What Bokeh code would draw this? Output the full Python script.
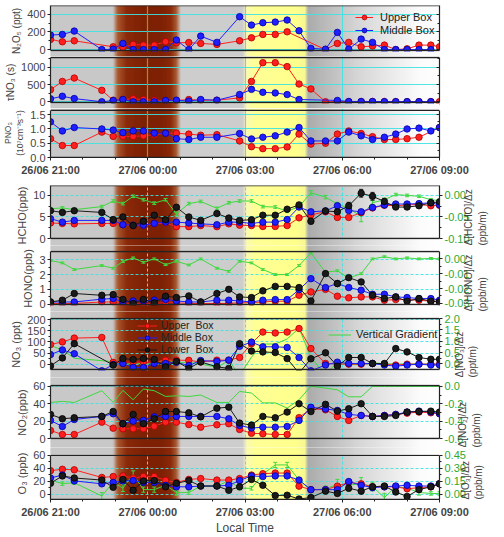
import math
import numpy as np
from bokeh.plotting import figure
from bokeh.layouts import column
from bokeh.models import (Range1d, LinearAxis, FixedTicker, Legend, LegendItem, Whisker,
                          ColumnDataSource, Span, Grid, NumeralTickFormatter, TeeHead)
from bokeh.embed import file_html
from bokeh.resources import INLINE

nan = float("nan")

# ---------------- data ----------------
times = ["21:00", "21:22", "21:44", "22:35", "22:56", "23:14", "23:33", "23:52", "00:12", "00:33",
         "00:53", "01:16", "01:38", "02:08", "02:30", "02:50", "03:12", "03:33", "03:56", "04:18",
         "04:40", "05:02", "05:29", "05:51", "06:12", "06:35", "06:56", "07:18", "07:39", "08:00",
         "08:22", "08:44", "09:00"]

tick_hours = [0, 3, 6, 9, 12]
tick_labels = ["26/06 21:00", "27/06 00:00", "27/06 03:00", "27/06 06:00", "27/06 09:00"]
minor_hours = list(range(13))

n2o5_upper = [116, 89, 100, nan, 32, 25, 59, 51, 51, 89, 77, 80, 70, 59, nan, 100, 134, 172, 172, 202,
              nan, nan, 0, 70, 82, 32, 40, 51, 0, 9, 51, 51, 32]
n2o5_middle = [165, 172, 210, 0, 5, 70, 0, 0, 0, 0, 108, 0, 153, 82, nan, 373, 278, 305, 312, 335,
               214, 14, 5, 195, 5, 119, 82, 0, 0, 0, 0, 0, nan]

tau_upper = [351, 589, 686, 331, 46, 66, 86, 66, 46, 37, 37, 66, 46, 46, nan, 114, 589, 1131, 1131, 1017,
             514, 371, 0, 10, 0, 5, 5, 5, 5, 5, 5, 5, 5]
tau_middle = [86, 160, 94, 0, 37, 66, 0, 0, 0, 37, 46, 20, 66, 46, nan, 209, 360, 274, 257, 209,
              66, nan, nan, 40, 10, 10, 10, 5, 5, 5, 5, 5, nan]

p_upper = [0.66, 0.42, 0.42, 0.89, 0.74, 0.74, 0.74, 0.76, 0.80, 0.85, 0.85, 0.82, 0.78, 0.80, nan, 0.58,
           0.38, 0.31, 0.31, 0.37, 0.82, 0.47, 0.50, 0.82, 0.93, 0.84, 0.73, 0.63, 0.63, 0.66, 0.71, nan, 1.05]
p_middle = [1.25, 0.93, 1.05, 1.00, 0.96, 0.87, 0.93, 0.93, 0.85, 0.85, 0.66, 0.63, 0.71, 0.71, nan, 0.84,
            0.65, 0.71, 0.76, 0.89, 1.05, 0.58, 0.58, 0.58, 0.89, 0.76, 0.63, 0.71, 0.82, 1.00, 1.03, 0.93, 1.05]

hcho_upper = [3.6, 3.5, 3.4, 3.5, 3.5, 3.2, 3.0, 3.1, 3.4, 3.6, 2.75, 2.75, 3.0, 2.75, 3.4, 3.1, 3.0, 2.8,
              2.8, 3.0, 4.8, 5.5, 6.2, 4.9, 4.9, 6.0, 7.1, 7.7, 7.6, 7.8, 7.9, 7.6, 7.7]
hcho_middle = [4.6, 3.8, 4.2, 4.2, 4.2, 3.2, 3.1, 3.1, 3.5, 3.8, 3.8, 3.6, 3.4, 3.2, 3.8, 3.8, 3.5, 3.8,
               3.8, 4.4, 7.3, 6.2, 6.4, 7.6, 6.5, 6.2, 7.2, 7.8, 8.0, 8.0, 8.1, 8.3, 7.8]
hcho_lower = [6.45, 6.05, 6.45, 6.05, 4.4, 5.0, 3.0, 4.0, 5.4, 4.35, 7.25, 5.0, 4.2, 5.8, 4.75, 4.2, 4.35,
              5.4, 5.4, 6.8, 7.8, 4.0, 6.4, 6.2, 7.6, 10.5, 9.8, 8.6, 7.3, 7.3, 7.6, 8.3, 8.5]
hcho_lower_err = [0, 0, 0, 0, 0, 0, 0, 0, 0, 0, 0, 0, 0, 0, 0, 0, 0, 0, 0, 0, 0, 0.6, 0, 0, 0.8, 0.9,
                  0.9, 0.6, 0, 0.5, 0, 0, 0]
hcho_grad = [-0.031, -0.029, -0.033, -0.026, -0.013, -0.019, -0.002, -0.010, -0.018, -0.010, -0.043,
             -0.019, -0.014, -0.030, -0.017, -0.013, -0.013, -0.026, -0.027, -0.037, -0.026, 0.006,
             -0.004, -0.020, -0.030, -0.049, -0.017, -0.010, 0.002, 0.000, -0.002, -0.010, -0.012]
hcho_grad_err = [0.003, 0.003, 0.003, 0.003, 0.003, 0.003, 0.003, 0.003, 0.003, 0.003, 0.004, 0.003,
                 0.003, 0.003, 0.003, 0.003, 0.003, 0.003, 0.003, 0.003, 0.003, 0.005, 0.004, 0.004,
                 0.006, 0.012, 0.005, 0.004, 0.003, 0.003, 0.003, 0.003, 0.003]

hono_upper = [0.05, 0.05, 0.05, 0.15, 0.15, 0.05, 0.05, 0.05, 0.05, 0.1, 0.1, 0.05, 0.05, 0.05, 0.05, 0.1,
              0.1, 0.15, 0.2, 0.2, 0.6, 0.83, 1.0, 0.54, 0.43, 0.49, 0.49, 0.27, 0.31, 0.31, 0.27, 0.2, 0.2]
hono_middle = [0.15, 0.15, 0.15, 0.34, 0.38, 0.15, 0.22, 0.22, 0.27, 0.32, 0.22, 0.15, 0.15, 0.27, 0.27,
               0.22, 0.15, 0.27, 0.31, 0.31, 0.98, 1.72, 1.12, 1.39, 1.12, 0.94, 0.67, 0.67, 0.49, 0.45,
               0.38, 0.38, 0.27]
hono_lower = [0.15, 0.27, 0.72, 0.6, 0.65, 0.32, 0.05, 0.32, 0.09, 0.54, 0.45, 0.56, 0.15, 0.72, 1.0, 0.49,
              0.45, 0.9, 1.2, 1.2, 1.12, 0.22, 2.06, 1.39, 1.79, 1.5, 0.6, 0.38, 0.49, 0.2, 0.38, 0.2, 0.15]
hono_grad = [-0.0011, -0.0027, -0.0072, -0.0045, -0.0063, -0.0018, 0.0007, -0.0023, 0.0, -0.0039,
             -0.0016, -0.0041, 0.0, -0.0063, -0.0084, -0.0016, -0.0027, -0.0072, -0.0106, -0.0106,
             -0.0045, 0.004, -0.009, -0.008, -0.0129, -0.010, 0.0, 0.0015, 0.0, 0.0007, 0.0, 0.0003, 0.0]
hono_grad_err = [0.0006] * 33

no3_upper = [88, 100, 117, 120, 8, 9, 9, 9, 9, 18, 18, 17, 10, 18, 18, 30, 92, 144, 140, 144, 160, 70, 3,
             0, 0, 0, 3, 0, -4, 0, 0, 0, 0]
no3_middle = [43, 64, 47, -30, -2, 3, -15, -15, 3, 3, 8, -6, 16, 12, 18, 80, 99, 78, 78, 75, 30, -30, -4,
              9, 3, 3, 3, -4, -9, -4, 0, -4, -4]
no3_lower = [-8, 28, 92, nan, -4, 25, 21, 25, 21, -12, 12, -19, 10, -12, -19, 92, 59, 55, 52, 25, -40, 24,
             51, -9, 30, 30, 3, 3, 70, 55, 30, 22, 22]
no3_grad = [0.81, 0.62, 0.25, nan, 0.10, -0.05, 0.05, 0.0, 0.02, 0.2, 0.07, 0.07, 0.0, -0.15, 0.15, -0.5,
            0.3, 0.88, 0.88, 1.1, 1.58, 0.29, -0.5, 0.11, -0.03, -0.03, 0.06, 0.0, 0.0, 0.0, 0.0, 0.0, 0.0]

no2_upper = [9.2, 4.6, 4.6, 18.8, 11.9, 11.2, 11.2, 11.2, 14.2, 18.8, 18.8, 16.1, 13.0, 15.8, 17.0, 10.4,
             6.0, 5.4, 4.6, 4.6, 24.0, 34.3, 33.0, 25.4, 20.8, 26.5, 25.4, 26.5, 27.7, 29.2, 30.4, 29.6, 28.5]
no2_middle = [20.8, 13.8, 21.9, 25.4, 28.5, 17.0, 20.0, 20.8, 24.9, 25.4, 25.4, 25.4, 25.4, 25.4, 22.7,
              15.0, 12.0, 13.0, 13.0, 13.8, 20.8, 36.0, 34.0, 32.3, 27.7, 26.5, 25.4, 26.5, 27.7, 30.4,
              31.5, 30.4, 28.5]
no2_lower = [27.7, 22.7, 23.9, 25.4, 31.1, 17.0, 27.7, 17.0, 22.7, 31.1, 31.1, 29.6, 24.9, 34.9, 36.1,
             17.7, 15.4, 25.4, 23.9, 30.4, 40.0, 31.0, 39.3, 31.5, 34.3, 40.0, 25.4, 25.4, 26.5, 30.4,
             31.1, 31.5, 30.4]
no2_grad = [-0.185, -0.173, -0.185, -0.05, -0.185, -0.046, -0.154, -0.03, -0.05, -0.116, -0.108, -0.116,
            -0.10, -0.185, -0.185, -0.058, -0.077, -0.19, -0.19, -0.25, -0.154, 0.0, -0.02, -0.04, -0.12,
            -0.12, 0.0, 0.0, 0.0, 0.0, 0.0, 0.0, 0.0]

o3_upper = [36.5, 38.6, 37.8, 26.0, 27.4, 28.4, 25.2, 27.4, 27.4, 21.6, 18.4, 23.0, 24.3, 22.0, 22.0, 24.3,
            29.7, 31.9, 32.8, 32.8, 12.6, 7.2, 7.2, 12.6, 18.4, 16.2, 11.6, 11.6, 11.6, 8.5, 10.3, 11.6, 16.2]
o3_middle = [25.2, 29.7, 20.7, 16.2, 18.4, 20.7, 21.2, 18.4, 18.4, 13.9, 11.6, 11.6, 12.8, 12.8, 13.9, 21.2,
             28.4, 27.4, 28.4, 28.4, 22.0, 7.2, 7.2, 7.2, 19.7, 13.9, 10.3, 11.6, 12.8, 13.9, 12.8, 12.8, 16.2]
o3_lower = [17.0, 28.4, 25.2, 22.0, 10.8, 23.0, 6.2, 20.7, 21.2, 11.6, 17.0, 21.2, 12.8, 12.8, 6.2, 11.6,
            23.0, 13.9, -1.9, -1.4, -7.3, -5.0, 4.9, 1.3, 9.5, 4.9, 11.6, 12.8, 3.5, -3.2, 7.2, 11.6, 16.2]
o3_lower_err = [0, 0, 0, 0, 0, 0, 0, 0, 0, 0, 0, 0, 0, 0, 0, 0, 0, 0, 0, 0, 0, 0, 3, 3, 4, 4, 3, 3, 3, 3,
                0, 0, 0]
o3_grad = [0.164, 0.123, 0.134, -0.02, 0.14, 0.072, 0.232, 0.054, 0.054, 0.106, 0.02, 0.02, 0.095, 0.095,
           0.157, 0.07, 0.07, 0.236, 0.34, 0.34, 0.168, 0.048, 0.065, 0.113, 0.106, 0.123, 0.089, -0.038,
           0.089, 0.072, 0.021, 0.01, 0.01]
o3_grad_err = [0.01, 0.02, 0.02, 0.04, 0.03, 0.04, 0.04, 0.03, 0.03, 0.02, 0.03, 0.02, 0.02, 0.02, 0.02,
               0.02, 0.02, 0.02, 0.03, 0.03, 0.02, 0.03, 0.03, 0.06, 0.07, 0.07, 0.05, 0.05, 0.03, 0.04,
               0.03, 0.02, 0.02]

# ---------------- style ----------------
FONT = "Liberation Sans"
RED, RED_E = "#ff1f1f", "#b00000"
BLUE, BLUE_E = "#1f1fff", "#0000a0"
BLACK, BLACK_E = "#1a1a1a", "#000000"
GREEN, GREEN_T = "#3fd83f", "#2fa82f"
CYAN = "#3ee2e2"

# background shading (hour positions and colours)
bg_h = [0.0, 1.92, 2.08, 2.35, 2.9, 3.4, 3.7, 3.88, 4.02, 5.92, 6.05, 6.3, 7.6, 7.85, 7.95, 9.5, 11.4, 12.0]
bg_r = [200, 200, 168, 138, 126, 126, 138, 168, 205, 205, 250, 255, 255, 248, 172, 215, 252, 255]
bg_g = [200, 200, 88, 42, 32, 32, 42, 88, 205, 205, 250, 255, 255, 248, 172, 215, 252, 255]
bg_b = [200, 200, 48, 10, 4, 4, 10, 48, 205, 205, 180, 150, 140, 150, 172, 215, 252, 255]

t = np.array([((int(s[:2]) - 21) % 24) + int(s[3:]) / 60.0 for s in times])
xr = Range1d(0, 12)


def rgba_row(alpha=None):
    n = 600
    hx = (np.arange(n) + 0.5) * 12.0 / n
    img = np.zeros((1, n), dtype=np.uint32)
    v = img.view(dtype=np.uint8).reshape((1, n, 4))
    v[0, :, 0] = np.interp(hx, bg_h, bg_r)
    v[0, :, 1] = np.interp(hx, bg_h, bg_g)
    v[0, :, 2] = np.interp(hx, bg_h, bg_b)
    v[0, :, 3] = 255 if alpha is None else np.interp(hx, alpha[0], alpha[1])
    return img


BG = rgba_row()
MASK = rgba_row(([0, 1.98, 2.2, 3.7, 3.92, 12], [0, 0, 215, 215, 0, 0]))


def style_axis(ax, size="11px"):
    ax.major_label_text_font = FONT
    ax.major_label_text_font_size = size
    ax.major_label_standoff = 2
    ax.axis_label_text_font = FONT
    ax.axis_label_text_font_style = "normal"
    ax.axis_line_color = "#222222"
    ax.axis_line_width = 1.2
    ax.major_tick_line_color = "#222222"
    ax.minor_tick_line_color = "#222222"
    ax.major_tick_out = 3
    ax.major_tick_in = 0
    ax.minor_tick_out = 2
    ax.minor_tick_in = 0


def panel(height, btop, bbot, pt, H, pb, lo, hi, ticks, minor, label, top,
          lfmt=None, lsize="11px", right=None, xaxis=False, xlabel=None):
    upp = (hi - lo) / H
    ys, ye = lo - pb * upp, hi + pt * upp
    p = figure(width=504, height=height, x_range=xr, y_range=Range1d(ys, ye),
               output_backend="svg", toolbar_location=None,
               x_axis_location="below" if xaxis else None,
               min_border_left=45, min_border_right=65,
               min_border_top=btop, min_border_bottom=bbot,
               outline_line_color=None, border_fill_color="white")
    p.grid.visible = False
    p.image_rgba(image=[BG], x=0, y=ys, dw=12, dh=ye - ys, level="image")
    dash = "solid" if top else "3 2"
    p.add_layout(Grid(dimension=1, ticker=FixedTicker(ticks=ticks), grid_line_color=CYAN,
                      grid_line_dash=dash, grid_line_alpha=0.9))
    p.add_layout(Grid(dimension=0, ticker=FixedTicker(ticks=[6, 9]), grid_line_color=CYAN,
                      grid_line_dash=dash, grid_line_alpha=0.9))
    if top:
        p.image_rgba(image=[MASK], x=0, y=ys, dw=12, dh=ye - ys, level="underlay")
        p.add_layout(Grid(dimension=0, ticker=FixedTicker(ticks=[3]), grid_line_color="#8f9a2a",
                          grid_line_width=1.2, level="glyph"))
    else:
        p.add_layout(Grid(dimension=0, ticker=FixedTicker(ticks=[3]), grid_line_color="#d9c21a",
                          grid_line_dash=dash))

    ax = p.yaxis[0]
    style_axis(ax)
    ax.bounds = (lo, hi)
    ax.ticker = FixedTicker(ticks=ticks, minor_ticks=minor)
    if lfmt:
        ax.formatter = NumeralTickFormatter(format=lfmt)
    ax.axis_label = label
    ax.axis_label_text_font_size = lsize
    ax.axis_label_standoff = 2

    if right is None:
        rax = LinearAxis(bounds=(lo, hi), ticker=FixedTicker(ticks=ticks, minor_ticks=minor),
                         major_label_text_color=None)
        style_axis(rax)
        rax.major_tick_in, rax.major_tick_out = 3, 0
        rax.minor_tick_in, rax.minor_tick_out = 2, 0
        p.add_layout(rax, "right")
    else:
        rlo, rhi, rticks, rminor, rfmt, rlabel = right
        rupp = (rhi - rlo) / H
        p.extra_y_ranges = {"g": Range1d(rlo - pb * rupp, rhi + pt * rupp)}
        rax = LinearAxis(y_range_name="g", bounds=(rlo, rhi),
                         ticker=FixedTicker(ticks=rticks, minor_ticks=rminor),
                         formatter=NumeralTickFormatter(format=rfmt), axis_label=rlabel)
        style_axis(rax)
        rax.major_label_text_color = GREEN_T
        rax.axis_label_text_font_size = "10px"
        rax.axis_label_standoff = 3
        try:
            rax.axis_label_orientation = math.pi / 2
            rax.axis_label_align = "start"
        except Exception:
            pass
        p.add_layout(rax, "right")

    if xaxis:
        xa = p.xaxis[0]
        style_axis(xa)
        xa.ticker = FixedTicker(ticks=tick_hours, minor_ticks=minor_hours)
        xa.major_label_overrides = {h: s for h, s in zip(tick_hours, tick_labels)}
        xa.major_label_text_font_style = "bold"
        xa.major_label_standoff = 3
        if xlabel:
            xa.axis_label = xlabel
            xa.axis_label_text_font_size = "12px"
            xa.axis_label_standoff = 0

    eps = 1.0 * upp
    if pb > 0:
        p.image_rgba(image=[BG], x=0, y=ys, dw=12, dh=(lo - eps) - ys, level="overlay")
    if pt > 0:
        p.image_rgba(image=[BG], x=0, y=hi + eps, dw=12, dh=ye - hi - eps, level="overlay")
    for loc in (lo, hi):
        p.add_layout(Span(location=loc, dimension="width", line_color="#222222", line_width=1.3))
    return p


def draw(p, y, color, edge, rname="default", marker=True, err=None):
    y = np.array(y, dtype=float)
    m = ~np.isnan(y)
    src = ColumnDataSource(dict(x=t[m], y=y[m]))
    rs = [p.line("x", "y", source=src, line_color=color, line_width=1.0, y_range_name=rname)]
    if marker:
        rs.append(p.scatter("x", "y", source=src, size=6.5, fill_color=color, line_color=edge,
                            line_width=0.8, y_range_name=rname))
    if err is not None:
        e = np.array(err, dtype=float)
        k = m & (e > 0)
        wsrc = ColumnDataSource(dict(x=t[k], lo=y[k] - e[k], hi=y[k] + e[k]))
        p.add_layout(Whisker(source=wsrc, base="x", upper="hi", lower="lo", y_range_name=rname,
                             line_color=color, line_width=1,
                             upper_head=TeeHead(size=4, line_color=color, line_width=1),
                             lower_head=TeeHead(size=4, line_color=color, line_width=1)))
    return rs


def legend(p, items, loc, gw, gh, standoff, size, spacing=0, padding=1):
    lg = Legend(items=[LegendItem(label=l, renderers=r) for l, r in items], location=loc,
                background_fill_alpha=0, border_line_color=None, glyph_width=gw, glyph_height=gh,
                label_height=gh, spacing=spacing, padding=padding, margin=0, label_standoff=standoff,
                label_text_font=FONT, label_text_font_size=size, label_text_color="#222222")
    p.add_layout(lg)


# ---------------- top group ----------------
A = panel(56, 5, 0, 0, 45, 6, -10, 500, [0, 200, 400], [100, 300], "N₂O₅ (ppt)", True, lsize="10px")
ra = draw(A, n2o5_upper, RED, RED_E)
ba = draw(A, n2o5_middle, BLUE, BLUE_E)
legend(A, [("Upper Box", ra), ("Middle Box", ba)], (305, 20), 18, 12, 7, "11px", spacing=1, padding=2)

B = panel(52, 0, 0, 1, 45, 6, -20, 1280, [0, 500, 1000], [250, 750, 1250], "τNO₃ (s)", True, lsize="10px")
draw(B, tau_upper, RED, RED_E)
draw(B, tau_middle, BLUE, BLUE_E)

C = panel(70, 0, 19, 2, 49, 0, 0, 1.65, [0, 0.5, 1.0, 1.5], [0.25, 0.75, 1.25], "PNO₃\n(10⁷cm⁻³s⁻¹)", True,
          lfmt="0.0", lsize="8.5px", xaxis=True)
draw(C, p_upper, RED, RED_E)
draw(C, p_middle, BLUE, BLUE_E)

# ---------------- bottom group ----------------
D = panel(67, 7, 0, 0, 53, 7, 0, 12.3, [0, 5, 10], [2.5, 7.5], "HCHO(ppb)", False,
          right=(-0.1, 0.023, [-0.1, -0.05, 0.0], [-0.075, -0.025], "0.00", "Δ[HCHO]/Δz\n(ppb/m)"))
draw(D, hcho_grad, GREEN, GREEN, rname="g", marker=False, err=hcho_grad_err)
draw(D, hcho_upper, RED, RED_E)
draw(D, hcho_middle, BLUE, BLUE_E)
draw(D, hcho_lower, BLACK, BLACK_E, err=hcho_lower_err)

E = panel(66, 0, 0, 6, 53, 7, -0.02, 3.55, [0, 1, 2, 3], [0.5, 1.5, 2.5], "HONO(ppb)", False,
          right=(-0.0308, 0.005, [-0.03, -0.02, -0.01, 0.0], [-0.025, -0.015, -0.005], "0.00",
                 "Δ[HONO]/Δz\n(ppb/m)"))
draw(E, hono_grad, GREEN, GREEN, rname="g", marker=False, err=hono_grad_err)
draw(E, hono_upper, RED, RED_E)
draw(E, hono_middle, BLUE, BLUE_E)
draw(E, hono_lower, BLACK, BLACK_E)

F = panel(66, 0, 0, 7, 51, 8, -24, 205, [0, 50, 100, 150, 200], [25, 75, 125, 175], "NO₃ (ppt)", False,
          right=(-0.245, 2.005, [0.0, 0.5, 1.0, 1.5, 2.0], [0.25, 0.75, 1.25, 1.75], "0.0",
                 "Δ[NO₃]/Δz\n(ppt/m)"))
gf = draw(F, no3_grad, GREEN, GREEN, rname="g", marker=False)
rf = draw(F, no3_upper, RED, RED_E)
bf = draw(F, no3_middle, BLUE, BLUE_E)
kf = draw(F, no3_lower, BLACK, BLACK_E)
legend(F, [("Upper  Box", rf), ("Middle Box", bf), ("Lower  Box", kf)], (87, 22), 20, 11, 4, "10.5px")
legend(F, [("Vertical Gradient", gf)], (278, 37), 23, 11, 5, "11px")

G = panel(70, 0, 0, 8, 53, 9, 0, 61, [0, 20, 40, 60], [10, 30, 50], "NO₂(ppb)", False,
          right=(-0.6, 0.01, [-0.6, -0.4, -0.2, 0.0], [-0.5, -0.3, -0.1], "0.0", "Δ[NO₂]/Δz\n(ppb/m)"))
draw(G, no2_grad, GREEN, GREEN, rname="g", marker=False)
draw(G, no2_upper, RED, RED_E)
draw(G, no2_middle, BLUE, BLUE_E)
draw(G, no2_lower, BLACK, BLACK_E)

H = panel(90, 0, 31, 9, 50, 0, -8, 60, [0, 20, 40, 60], [10, 30, 50], "O₃ (ppb)", False,
          right=(-0.06, 0.45, [0.0, 0.15, 0.30, 0.45], [0.075, 0.225, 0.375], "0.00", "Δ[O₃]/Δz\n(ppb/m)"),
          xaxis=True, xlabel="Local Time")
draw(H, o3_grad, GREEN, GREEN, rname="g", marker=False, err=o3_grad_err)
draw(H, o3_upper, RED, RED_E)
draw(H, o3_middle, BLUE, BLUE_E)
draw(H, o3_lower, BLACK, BLACK_E, err=o3_lower_err)

layout = column(A, B, C, D, E, F, G, H, spacing=0)
open("out.html", "w").write(file_html(layout, INLINE, "chart"))
